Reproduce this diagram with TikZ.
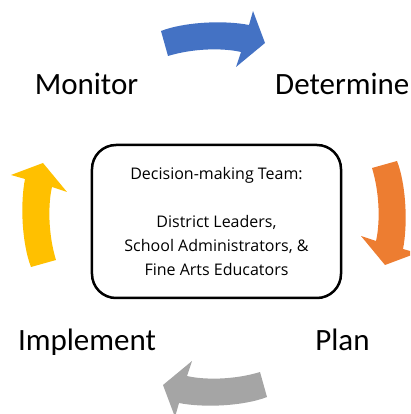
\documentclass[tikz,border=0pt]{standalone}
\usepackage{fontspec}
\setmainfont{Open Sans}
\newfontfamily\stepfont{Carlito}
\usepackage{tikz}
\usetikzlibrary{positioning}

\definecolor{cycblue}{HTML}{4472C4}
\definecolor{cycorange}{HTML}{ED7D31}
\definecolor{cycgray}{HTML}{A5A5A5}
\definecolor{cycyellow}{HTML}{FFC000}

% one curved block arrow of the cycle, turned round the centre
\newcommand{\cyclearrow}[2]{%
  \fill[#1, rotate=#2] (-53,183) .. controls (-30,192) and (10,194) .. (35,189)
    -- (39,203) -- (51,171) -- (22,147) -- (27,162)
    .. controls (10,166) and (-20,166) .. (-46,158) -- cycle;}

\begin{document}
\begin{tikzpicture}[x=1pt,y=1pt]
		\tikzstyle{team box}=[rectangle, draw=black, line width=2.5pt, rounded corners=24pt, minimum width=249pt, minimum height=153pt, align=center, font=\fontsize{16}{24}\selectfont]
		\tikzstyle{step label}=[inner sep=0pt, anchor=base, font=\stepfont\fontsize{31}{31}\selectfont]

		\useasboundingbox (-214,-200) rectangle (196,214);
		\clip (-214,-200) rectangle (196,214);

		\cyclearrow{cycblue}{0}
		\cyclearrow{cycorange}{-90}
		\cyclearrow{cycgray}{180}
		\cyclearrow{cycyellow}{90}

		\node [team box] (team) at (2.5,-7.5) {Decision-making Team:\\[24pt]District Leaders,\\School Administrators, \&\\Fine Arts Educators};

		\node [step label] (monitor) at (-127.5,119) {Monitor};
		\node [step label, anchor=base west] (determine) at (61,119) {Determine};
		\node [step label] (implement) at (-127,-136) {Implement};
		\node [step label] (plan) at (128.5,-136) {Plan};
	\end{tikzpicture}
\end{document}
